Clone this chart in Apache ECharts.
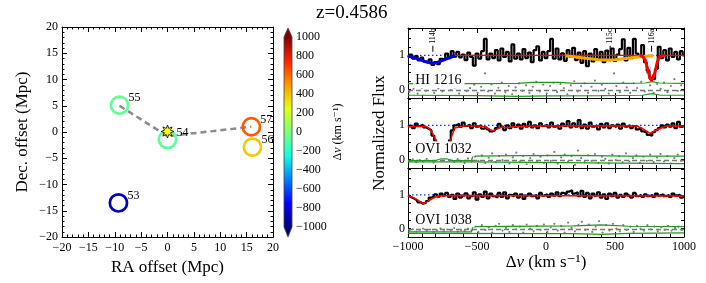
<!DOCTYPE html>
<html><head><meta charset="utf-8">
<script src="https://cdn.jsdelivr.net/npm/echarts/dist/echarts.min.js"></script>
<style>html,body{margin:0;padding:0;background:#fff}#c{width:706px;height:283px}</style>
</head><body><div id="c"></div>
<script>
const FONT = '"Liberation Serif","DejaVu Serif",serif';
// ---------- left panel data ----------
const galaxyIds = ['53','54','55','56','57'];
const raOffset  = [-9.3, 0.0, -9.1, 16.1, 15.9];
const decOffset = [-13.5, -1.4, 5.1, -2.9, 1.0];
const deltaV    = [-870, -80, -60, 380, 630];
const qsoRa = [0.0], qsoDec = [0.1];
const pathRa  = [-9.1, 0.0, 15.9];
const pathDec = [5.0, -0.8, 1.0];
const cbarRange = [-1000, 1000];
const jetColors = ['#00007f','#0000ff','#0080ff','#14ffe3','#7dff7a','#e2ff14','#ff9700','#ff2100','#7f0000'];
// ---------- spectra ----------
const velocity = [-1000,-980,-960,-940,-920,-900,-880,-860,-840,-820,-800,-780,-760,-740,-720,-700,-680,-660,-640,-620,-600,-580,-560,-540,-520,-500,-480,-460,-440,-420,-400,-380,-360,-340,-320,-300,-280,-260,-240,-220,-200,-180,-160,-140,-120,-100,-80,-60,-40,-20,0,20,40,60,80,100,120,140,160,180,200,220,240,260,280,300,320,340,360,380,400,420,440,460,480,500,520,540,560,580,600,620,640,660,680,700,720,740,760,780,800,820,840,860,880,900,920,940,960,980,1000];
const hiFlux = [0.95,1.02,0.90,0.98,0.85,0.93,0.82,0.78,0.88,0.72, 0.80,0.74,0.90,0.86,1.05,0.92,1.12,0.96,1.10,0.94, 1.02,0.86,1.08,0.95,0.70,1.05,0.90,1.12,1.48,0.88, 1.05,0.92,1.15,0.85,1.20,0.95,1.10,0.82,1.32,0.90, 1.05,0.88,1.18,0.92,1.08,0.80,1.15,1.26,0.85,1.10, 0.92, 1.12,1.48,0.90,1.20,0.88,1.06,0.84,1.15,0.95,1.22, 0.86,1.08,0.78,1.12,0.68,1.05,0.82,1.18,0.90,1.10, 0.80,1.14,0.86,1.20,0.84,1.02,1.18,1.47,0.85,1.22, 0.92,1.48,1.05,0.95,1.30,0.80,0.55,0.32,0.30,0.60, 1.25,0.92,1.15,0.85,1.20,0.95,1.10,0.88,1.12,1.00];
const ovi1032Flux = [0.96,1.00,0.92,1.05,0.98,1.02,0.94,0.90,0.85,0.70, 0.55,null,null,null,null,0.55,0.85,1.00,1.05,0.95, 1.08,0.98,1.02,0.92,1.06,0.96,1.00,0.90,0.95,0.88, 0.82,0.85,0.92,1.04,0.96,0.86,1.00,0.92,1.06,0.95, 1.02,0.90,1.04,0.96,1.10,0.94,1.00,0.92,1.06,0.98, 1.02, 0.94,1.08,0.96,1.00,0.90,1.05,0.98,1.12,0.94,1.06, 0.96,1.15,0.92,1.02,0.90,1.08,0.96,1.00,0.88,1.04, 0.94,1.06,0.92,1.00,0.95,1.02,0.90,1.05,0.96,1.00, 0.92,0.98,0.88,0.92,0.82,0.78,0.72,0.70,0.80,0.86, 0.92,1.00,0.94,1.02,0.96,1.06,0.92,1.10,0.95,1.00];
const ovi1038Flux = [0.98,0.94,0.90,0.86,0.78,0.74,0.76,0.82,0.92,0.96, 1.02,0.95,1.04,0.98,1.06,0.94,1.00,0.88,1.04,0.92, 0.98,1.05,0.90,0.96,1.08,0.86,1.02,0.94,1.10,0.90, 1.04,0.96,0.92,1.06,0.94,1.08,0.90,1.00,0.96,1.04, 0.92,1.02,0.88,0.98,1.04,0.96,1.00,0.90,1.06,0.98, 1.02, 0.94,1.04,0.98,1.08,0.96,1.06,1.02,1.10,1.14,1.04, 1.08,0.96,1.12,0.94,1.06,0.90,1.04,0.98,1.08,0.92, 1.02,0.88,1.04,0.96,1.06,0.92,1.00,0.94,1.04,0.98, 0.92,1.06,0.96,1.00,0.94,1.02,0.96,1.00,0.94,1.04, 0.98,1.02,0.96,1.00,0.94,1.04,0.98,1.00,0.92,0.96];
const hiResid = [[-990,-0.08],[-960,0.02],[-930,-0.12],[-900,0.05],[-870,-0.04],[-840,0.08],[-810,-0.1],[-780,0.03],[-750,-0.06],[-720,0.1],[-690,-0.02],[-660,0.06],[-630,-0.12],[-600,0.12],[-575,-0.05],[-550,0.04],[-520,0.14],[-495,-0.1],[-470,0.08],[-442,0.47],[-420,-0.06],[-395,0.15],[-370,-0.12],[-345,0.05],[-320,0.2],[-295,-0.08],[-270,0.1],[-245,-0.14],[-220,0.06],[-195,0.18],[-170,-0.04],[-145,0.12],[-120,-0.1],[-95,0.08],[-70,0.22],[-45,-0.06],[-20,0.14],[5,-0.12],[30,0.1],[55,0.2],[80,-0.08],[105,0.16],[130,0.04],[155,-0.14],[180,0.12],[205,0.24],[230,-0.06],[255,0.1],[280,0.18],[305,-0.1],[330,0.08],[355,0.26],[380,-0.04],[405,0.14],[430,0.02],[455,-0.12],[493,0.47],[510,0.1],[535,-0.08],[560,0.2],[585,0.06],[610,-0.1],[635,0.18],[660,0.04],[690,0.22],[715,-0.06],[732,0.5],[755,0.12],[780,-0.1],[805,0.16],[830,0.02],[855,0.2],[880,-0.08],[905,0.1],[930,0.3],[955,-0.04],[980,0.12]];
const ovi1032Resid = [[-990,-0.05],[-965,0.0],[-940,-0.08],[-915,-0.02],[-890,-0.06],[-865,0.02],[-840,-0.04],[-815,-0.09],[-690,-0.03],[-665,-0.07],[-640,0.01],[-615,-0.05],[-590,-0.1],[-565,0.03],[-540,-0.06],[-515,0.08],[-490,-0.04],[-465,0.12],[-440,-0.1],[-415,0.05],[-390,0.18],[-365,-0.08],[-340,0.1],[-315,-0.02],[-290,0.14],[-265,-0.12],[-240,0.06],[-215,0.2],[-190,-0.06],[-165,0.1],[-140,-0.14],[-115,0.04],[-90,0.16],[-65,-0.08],[-40,0.08],[-15,-0.1],[10,0.12],[35,-0.04],[60,0.22],[85,-0.12],[110,0.06],[135,0.14],[160,-0.06],[185,0.1],[210,-0.16],[232,0.26],[255,0.04],[280,-0.08],[305,0.12],[330,-0.04],[355,0.16],[380,-0.1],[405,0.08],[430,0.02],[455,-0.12],[480,0.14],[505,-0.02],[530,0.1],[555,-0.08],[580,0.18],[605,-0.06],[630,0.04],[655,0.12],[680,-0.1],[705,0.08],[730,-0.04],[755,0.14],[780,-0.08],[805,0.06],[830,0.16],[855,-0.06],[880,0.1],[905,-0.12],[930,0.04],[955,0.14],[980,-0.04]];
const ovi1038Resid = [[-990,-0.06],[-965,-0.02],[-940,-0.09],[-915,-0.04],[-890,0.0],[-865,-0.07],[-840,-0.03],[-815,-0.1],[-790,-0.05],[-765,0.01],[-740,-0.08],[-715,-0.03],[-690,-0.06],[-665,0.02],[-640,-0.09],[-615,-0.04],[-590,-0.07],[-565,0.0],[-540,-0.05],[-515,0.06],[-490,-0.1],[-465,0.1],[-440,-0.04],[-415,0.04],[-390,-0.12],[-365,0.08],[-340,0.14],[-315,-0.06],[-290,0.02],[-265,-0.1],[-240,0.1],[-215,-0.02],[-190,0.06],[-165,-0.12],[-140,0.12],[-115,0.0],[-90,-0.08],[-65,0.08],[-40,-0.04],[-15,0.12],[10,-0.1],[35,0.04],[60,0.14],[85,-0.06],[110,0.08],[135,-0.12],[160,0.18],[185,0.02],[210,-0.08],[235,0.1],[260,0.2],[285,-0.04],[310,0.12],[335,-0.1],[360,0.06],[385,0.22],[410,-0.12],[435,0.1],[460,-0.06],[485,0.14],[510,0.0],[535,-0.08],[560,0.1],[585,-0.04],[610,0.06],[635,-0.1],[660,0.08],[685,0.0],[710,-0.06],[735,0.1],[760,-0.02],[785,0.06],[810,-0.08],[835,0.04],[860,-0.04],[885,0.08],[910,-0.06],[935,0.02],[960,0.06],[985,-0.04]];
const hiErrUpper = [[-1000,0.17],[-600,0.17],[-200,0.18],[-100,0.21],[100,0.21],[200,0.18],[600,0.18],[720,0.19],[770,0.23],[820,0.19],[1000,0.18]];
const hiErrLower = [[-1000,-0.17],[-500,-0.18],[-200,-0.2],[0,-0.19],[400,-0.18],[700,-0.17],[770,-0.12],[830,-0.17],[1000,-0.17]];
const ovi1032ErrUpper = [[-1000,-0.03],[-800,-0.03],[-760,0.02],[-720,0.02],[-680,-0.03],[-540,-0.03],[-530,0.1],[-200,0.11],[200,0.12],[600,0.1],[1000,0.1]];
const ovi1032ErrLower = [[-1000,-0.07],[-540,-0.07],[-530,-0.12],[1000,-0.12]];
const ovi1038ErrUpper = [[-1000,-0.1],[-540,-0.1],[-530,0.06],[200,0.08],[400,0.11],[600,0.07],[1000,0.06]];
const ovi1038ErrLower = [[-1000,-0.14],[200,-0.15],[400,-0.17],[600,-0.14],[1000,-0.13]];
const continuum = [[-1000,1.0],[1000,1.0]];
const zeroLevel = [[-1000,-0.03],[1000,-0.03]];
const hiBlueFit = [[-1000,0.97],[-960,0.94],[-920,0.88],[-880,0.82],[-840,0.78],[-820,0.77],[-800,0.78],[-760,0.83],[-720,0.9],[-680,0.96],[-660,0.98]];
const hiRedModel = [[-660,1.0],[680,1.0],[700,0.97],[720,0.85],[740,0.55],[755,0.32],[765,0.26],[775,0.3],[790,0.5],[805,0.78],[820,0.94],[840,0.99],[860,1.0],[1000,1.0]];
const hiRedComp = [[680,1.0],[700,0.97],[720,0.85],[740,0.55],[755,0.32],[765,0.26],[775,0.3],[790,0.5],[805,0.78],[820,0.94],[840,0.99],[860,1.0]];
const hiOrangeFit = [[140,0.99],[200,0.96],[260,0.93],[320,0.9],[380,0.87],[430,0.86],[500,0.87],[560,0.9],[620,0.93],[680,0.96],[740,0.98],[775,0.99]];
const ovi1032RedFit = [[-1000,0.96],[-880,0.97],[-860,0.95],[-840,0.88],[-820,0.75],[-800,0.58],[-790,0.5],[-789,null],[-697,null],[-696,0.49],[-680,0.72],[-660,0.92],[-647,0.97],[-600,0.98],[-480,0.98],[-440,0.95],[-400,0.86],[-380,0.84],[-360,0.88],[-320,0.95],[-280,0.93],[-240,0.96],[-100,0.98],[300,0.99],[660,0.98],[700,0.9],[740,0.8],[755,0.76],[780,0.82],[820,0.9],[860,0.96],[880,0.98],[1000,0.98]];
const ovi1038RedFit = [[-1000,0.97],[-960,0.92],[-920,0.82],[-890,0.74],[-860,0.8],[-820,0.9],[-790,0.96],[-700,0.98],[1000,0.97]];
const componentNames = ['114b','115c','116a'];
const componentVel = [-820, 465, 765];
const ionNames = ['HI 1216','OVI 1032','OVI 1038'];

const minus = v => String(v).replace('-', '\u2212');
const black = '#000';
const tickStyle = {lineStyle:{color:black,width:1}};
const lineAx = {onZero:false,lineStyle:{color:black,width:1}};

const xAxes = [], yAxes = [], series = [];
// map axes (grid 0): x 0,1  y 0,1
xAxes.push({gridIndex:0,type:'value',min:-20,max:20,interval:5,position:'bottom',axisLine:lineAx,
  axisTick:{inside:true,length:5,...tickStyle},minorTick:{show:true,splitNumber:5,length:2.5,...tickStyle},splitLine:{show:false},
  axisLabel:{formatter:minus,fontSize:12,fontFamily:FONT,color:black,margin:5},
  name:'RA offset (Mpc)',nameLocation:'middle',nameGap:22,nameTextStyle:{fontSize:17,fontFamily:FONT,color:black}});
xAxes.push({gridIndex:0,type:'value',min:-20,max:20,interval:5,position:'top',axisLine:lineAx,
  axisTick:{inside:true,length:5,...tickStyle},minorTick:{show:true,splitNumber:5,length:2.5,...tickStyle},splitLine:{show:false},axisLabel:{show:false}});
yAxes.push({gridIndex:0,type:'value',min:-20,max:20,interval:5,position:'left',axisLine:lineAx,
  axisTick:{inside:true,length:5,...tickStyle},minorTick:{show:true,splitNumber:5,length:2.5,...tickStyle},splitLine:{show:false},
  axisLabel:{formatter:minus,fontSize:12,fontFamily:FONT,color:black,margin:4},
  name:'Dec. offset (Mpc)',nameLocation:'middle',nameGap:31,nameTextStyle:{fontSize:17,fontFamily:FONT,color:black}});
yAxes.push({gridIndex:0,type:'value',min:-20,max:20,interval:5,position:'right',axisLine:lineAx,
  axisTick:{inside:true,length:5,...tickStyle},minorTick:{show:true,splitNumber:5,length:2.5,...tickStyle},splitLine:{show:false},axisLabel:{show:false}});
// colorbar axes (grid 1): x 2, y 2
xAxes.push({gridIndex:1,type:'value',min:0,max:1,show:false});
yAxes.push({gridIndex:1,type:'value',min:cbarRange[0],max:cbarRange[1],interval:200,position:'right',
  axisLine:{show:false},axisTick:{show:false},splitLine:{show:false},
  axisLabel:{formatter:minus,fontSize:12,fontFamily:FONT,color:black,margin:4},
  name:'\u0394{i|v} (km s\u207B\u00B9)',nameLocation:'middle',nameGap:40,nameRotate:90,
  nameTextStyle:{fontSize:12,fontFamily:FONT,color:black,rich:{i:{fontStyle:'italic',fontSize:12,fontFamily:FONT}}}});
// spectral panels (grids 2,3,4): axes 3+2p, 4+2p
for (let p=0;p<3;p++){
  const last = p===2;
  xAxes.push({gridIndex:2+p,type:'value',min:-1000,max:1000,interval:500,position:'bottom',axisLine:lineAx,
    axisTick:{inside:true,length:5,...tickStyle},minorTick:{show:true,splitNumber:5,length:3,...tickStyle},splitLine:{show:false},
    axisLabel:{show:last,formatter:minus,fontSize:12,fontFamily:FONT,color:black,margin:4},
    name:last?'\u0394{i|v} (km s\u207B\u00B9)':'',nameLocation:'middle',nameGap:17,
    nameTextStyle:{fontSize:17,fontFamily:FONT,color:black,rich:{i:{fontStyle:'italic',fontSize:17,fontFamily:FONT}}}});
  xAxes.push({gridIndex:2+p,type:'value',min:-1000,max:1000,interval:500,position:'top',axisLine:lineAx,
    axisTick:{inside:true,length:5,...tickStyle},minorTick:{show:true,splitNumber:5,length:3,...tickStyle},splitLine:{show:false},axisLabel:{show:false}});
  yAxes.push({gridIndex:2+p,type:'value',min:-0.25,max:1.8,interval:0.25,position:'left',axisLine:lineAx,
    axisTick:{inside:true,length:3,...tickStyle},splitLine:{show:false},
    axisLabel:{formatter:v=>(Math.abs(v)<1e-9?'0':(Math.abs(v-1)<1e-9?'1':'')),fontSize:12,fontFamily:FONT,color:black,margin:3},
    name:p===1?'Normalized Flux':'',nameLocation:'middle',nameGap:20,nameTextStyle:{fontSize:17,fontFamily:FONT,color:black}});
  yAxes.push({gridIndex:2+p,type:'value',min:-0.25,max:1.8,interval:0.25,position:'right',axisLine:lineAx,
    axisTick:{inside:true,length:3,...tickStyle},splitLine:{show:false},axisLabel:{show:false}});
}

// ---- map series ----
series.push({type:'line',xAxisIndex:0,yAxisIndex:0,data:pathRa.map((x,i)=>[x,pathDec[i]]),symbol:'none',z:2,
  lineStyle:{color:'#8c8c8c',width:2.5,type:[6,4]},silent:true});
const ringSeriesIndex = series.length;
series.push({type:'custom',xAxisIndex:0,yAxisIndex:0,z:3,
  data:galaxyIds.map((id,i)=>[raOffset[i],decOffset[i],deltaV[i]]),
  renderItem:(params,api)=>{
    const pt = api.coord([api.value(0),api.value(1)]);
    const c = api.visual('color');
    return {type:'group',children:[
      {type:'circle',shape:{cx:pt[0],cy:pt[1],r:8.6},style:{fill:'none',stroke:c,lineWidth:2.7}},
      {type:'text',x:pt[0]+9,y:pt[1]-7,style:{text:galaxyIds[params.dataIndex],fill:black,font:'12px '+FONT,verticalAlign:'middle',align:'left'}}
    ]};
  }});
series.push({type:'scatter',xAxisIndex:0,yAxisIndex:0,z:5,data:qsoRa.map((x,i)=>[x,qsoDec[i]]),
  symbol:'path://M10 0L11.91 5.38L17.07 2.93L14.62 8.09L20 10L14.62 11.91L17.07 17.07L11.91 14.62L10 20L8.09 14.62L2.93 17.07L5.38 11.91L0 10L5.38 8.09L2.93 2.93L8.09 5.38Z',
  symbolSize:13,itemStyle:{color:'#ffff00',borderColor:black,borderWidth:0.8,opacity:1}});
// ---- colorbar ----
series.push({type:'custom',xAxisIndex:2,yAxisIndex:2,clip:false,data:[[0,cbarRange[0],1,cbarRange[1]]],
  renderItem:(params,api)=>{
    const a = api.coord([api.value(0),api.value(1)]);
    const b = api.coord([api.value(2),api.value(3)]);
    const l=a[0], r=b[0], bot=a[1], top=b[1], m=(l+r)/2;
    const stops = jetColors.map((c,i)=>({offset:i/(jetColors.length-1),color:c}));
    return {type:'group',children:[
      {type:'rect',shape:{x:l,y:top,width:r-l,height:bot-top},style:{fill:new echarts.graphic.LinearGradient(0,1,0,0,stops)}},
      {type:'polygon',shape:{points:[[l,top],[r,top],[m,top-9]]},style:{fill:jetColors[jetColors.length-1]}},
      {type:'polygon',shape:{points:[[l,bot],[r,bot],[m,bot+10]]},style:{fill:jetColors[0]}},
      {type:'polygon',shape:{points:[[l,top],[m,top-9],[r,top],[r,bot],[m,bot+10],[l,bot]]},style:{fill:'none',stroke:'#444',lineWidth:0.8}}
    ]};
  }});
// ---- spectra ----
const panels = [
  {flux:hiFlux,resid:hiResid,errU:hiErrUpper,errL:hiErrLower,labelY:0.26,
   fits:[{d:hiRedModel,c:'#ff0000',w:1.3},{d:hiBlueFit,c:'#0000ee',w:3},{d:hiOrangeFit,c:'#ffa500',w:3},{d:hiRedComp,c:'#ff0000',w:3}],comps:true},
  {flux:ovi1032Flux,resid:ovi1032Resid,errU:ovi1032ErrUpper,errL:ovi1032ErrLower,labelY:0.31,
   fits:[{d:ovi1032RedFit,c:'#ff0000',w:1.5}]},
  {flux:ovi1038Flux,resid:ovi1038Resid,errU:ovi1038ErrUpper,errL:ovi1038ErrLower,labelY:0.26,
   fits:[{d:ovi1038RedFit,c:'#ff0000',w:1.5}]}
];
panels.forEach((P,p)=>{
  const ax = {xAxisIndex:3+2*p,yAxisIndex:3+2*p,silent:true};
  series.push({type:'line',...ax,data:continuum,symbol:'none',z:2,lineStyle:{color:'#2222ff',width:1.2,type:[1.5,2.5]}});
  series.push({type:'line',...ax,data:zeroLevel,symbol:'none',z:2,lineStyle:{color:'#777',width:1.5,type:[5,3]}});
  series.push({type:'scatter',...ax,data:P.resid,symbolSize:2.2,z:2,itemStyle:{color:'#808080',opacity:1}});
  series.push({type:'line',...ax,data:P.errU,symbol:'none',z:3,lineStyle:{color:'#1f9a1f',width:1.2}});
  series.push({type:'line',...ax,data:P.errL,symbol:'none',z:3,lineStyle:{color:'#1f9a1f',width:1.2}});
  series.push({type:'line',...ax,data:velocity.map((v,i)=>[v,P.flux[i]]),step:'middle',symbol:'none',showSymbol:false,z:4,connectNulls:false,
    lineStyle:{color:black,width:2.2}});
  P.fits.forEach(f=>series.push({type:'line',...ax,data:f.d,symbol:'none',showSymbol:false,z:5,connectNulls:false,lineStyle:{color:f.c,width:f.w}}));
  series.push({type:'scatter',...ax,data:[[-962,P.labelY]],symbolSize:0,z:8,itemStyle:{opacity:1},
    label:{show:true,position:'right',distance:0,formatter:ionNames[p],fontSize:14,fontFamily:FONT,color:black,backgroundColor:'#fff',padding:[1,3,0,2]}});
  if (P.comps){
    series.push({type:'scatter',...ax,data:componentVel.map((v,i)=>({value:[v,1.19],name:componentNames[i]})),
      symbol:'rect',symbolSize:[1,6],z:6,itemStyle:{color:black,opacity:1},
      label:{show:true,position:'top',distance:2,rotate:90,align:'left',verticalAlign:'middle',formatter:'{b}',fontSize:8,fontFamily:FONT,color:black}});
  }
});

const chart = echarts.init(document.getElementById('c'));
chart.setOption({
  animation:false,backgroundColor:'#fff',
  grid:[
    {left:62,top:27,width:211,height:210},
    {left:284,top:37,width:8,height:190},
    {left:408,top:28,width:276,height:70},
    {left:408,top:98,width:276,height:70},
    {left:408,top:168,width:276,height:69}
  ],
  xAxis:xAxes,yAxis:yAxes,
  visualMap:[{type:'continuous',show:false,min:cbarRange[0],max:cbarRange[1],dimension:2,seriesIndex:ringSeriesIndex,inRange:{color:jetColors}}],
  graphic:[{type:'text',left:316,top:4,style:{text:'z=0.4586',font:'19px '+FONT,fill:black}}],
  series:series
});
</script></body></html>
